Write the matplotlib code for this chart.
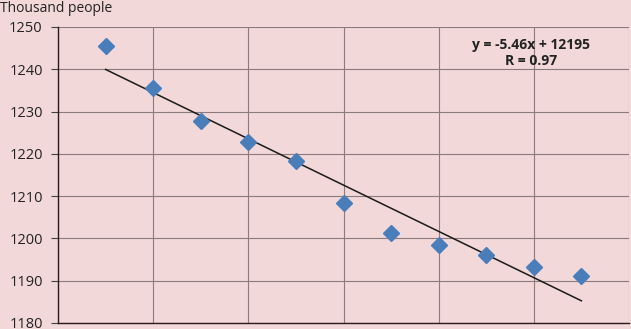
import numpy as np
import matplotlib.pyplot as plt

# Population, thousand people
years_idx = [1, 2, 3, 4, 5, 6, 7, 8, 9, 10, 11]
population = [1245.5, 1235.6, 1227.8, 1222.8, 1218.3, 1208.4,
              1201.3, 1198.5, 1196.1, 1193.3, 1191.1]
y_ticks = [1180, 1190, 1200, 1210, 1220, 1230, 1240, 1250]
equation_text = "y = -5.46x + 12195\nR = 0.97"

bg = "#f2d8d9"
plt.rcParams['font.family'] = ['Open Sans', 'DejaVu Sans']

fig = plt.figure(figsize=(6.31, 3.29), dpi=100, facecolor=bg)
ax = fig.add_axes([58 / 631, 6 / 329, 571 / 631, 296 / 329])
ax.set_facecolor(bg)

# linear trend through the points
coef = np.polyfit(years_idx, population, 1)
x_fit = np.array([years_idx[0], years_idx[-1]])
ax.plot(x_fit, np.polyval(coef, x_fit), color="#1a1a1a", lw=1.1, zorder=3)

ax.plot(years_idx, population, linestyle="none", marker="D", ms=8.5,
        color="#4a7ebb", markeredgecolor="#4a7ebb", zorder=4)

ax.set_xlim(0, 12)
ax.set_ylim(1180, 1250)
ax.set_yticks(y_ticks)
ax.set_xticks([2, 4, 6, 8, 10, 12])
ax.tick_params(axis="x", length=0, labelbottom=False)
ax.tick_params(axis="y", length=5, width=0.8, color="#404040",
               labelsize=10.5, labelcolor="#222222", pad=6)
ax.grid(True, color="#8c7b7d", lw=0.8)
ax.set_axisbelow(True)

for side in ["top", "right"]:
    ax.spines[side].set_visible(False)
for side in ["left", "bottom"]:
    ax.spines[side].set_color("#2a1a1a")
    ax.spines[side].set_linewidth(1.0)

ax.text(9.94, 1243.9, equation_text, ha="center", va="center",
        fontsize=10, fontweight="bold", color="#222222", linespacing=1.2)

fig.text(0.0, 1.0 - 8 / 329, "Thousand people", ha="left", va="center",
         fontsize=10, color="#222222")

fig.savefig("out.png", dpi=100, facecolor=bg)
